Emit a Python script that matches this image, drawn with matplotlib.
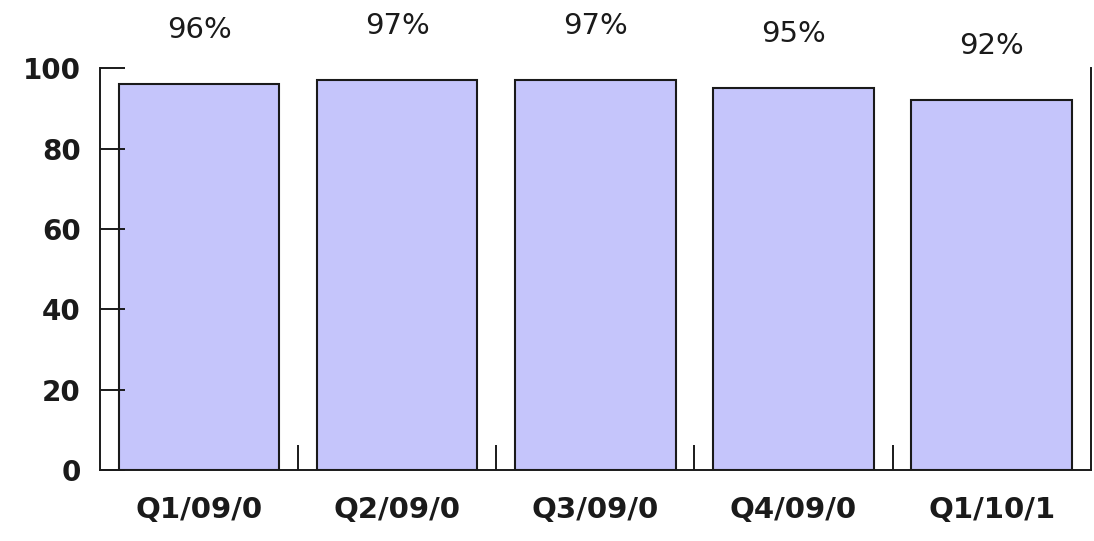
import matplotlib.pyplot as plt
from matplotlib.ticker import FixedLocator

# quarterly scores
quarters = ["Q1/09/0", "Q2/09/0", "Q3/09/0", "Q4/09/0", "Q1/10/1"]
scores = [96, 97, 97, 95, 92]
y_ticks = [0, 20, 40, 60, 80, 100]

BAR_COLOR = "#c5c5fb"
FONT = "DejaVu Sans"
INK = "#1a1a1a"

fig = plt.figure(figsize=(10.94, 5.41), dpi=100)
ax = fig.add_axes([0.0914, 0.1312, 0.9056, 0.7428])

xs = range(len(quarters))
ax.bar(xs, scores, width=0.81, color=BAR_COLOR, edgecolor=INK, linewidth=1.5)

for x, v in zip(xs, scores):
    ax.annotate(f"{v}%", (x, v), xytext=(0, 39), textcoords="offset points",
                ha="center", va="center", fontsize=21, family=FONT,
                color=INK, annotation_clip=False)

ax.set_xlim(-0.5, len(quarters) - 0.5)
ax.set_ylim(0, 100)

ax.set_yticks(y_ticks)
ax.set_xticks(list(xs))
ax.set_xticklabels(quarters)
ax.xaxis.set_minor_locator(FixedLocator([i + 0.5 for i in range(len(quarters) - 1)]))

ax.tick_params(axis="y", direction="in", length=18, width=1.4, pad=14,
               labelsize=20, color=INK)
ax.tick_params(axis="x", which="major", length=0, pad=19, labelsize=21)
ax.tick_params(axis="x", which="minor", direction="in", length=18, width=1.4,
               color=INK)
for lab in ax.get_xticklabels() + ax.get_yticklabels():
    lab.set_fontweight("bold")
    lab.set_family(FONT)
    lab.set_color(INK)

ax.spines["top"].set_visible(False)
for side in ("left", "right", "bottom"):
    ax.spines[side].set_linewidth(1.4)
    ax.spines[side].set_color(INK)

fig.savefig("out.png", dpi=100)
